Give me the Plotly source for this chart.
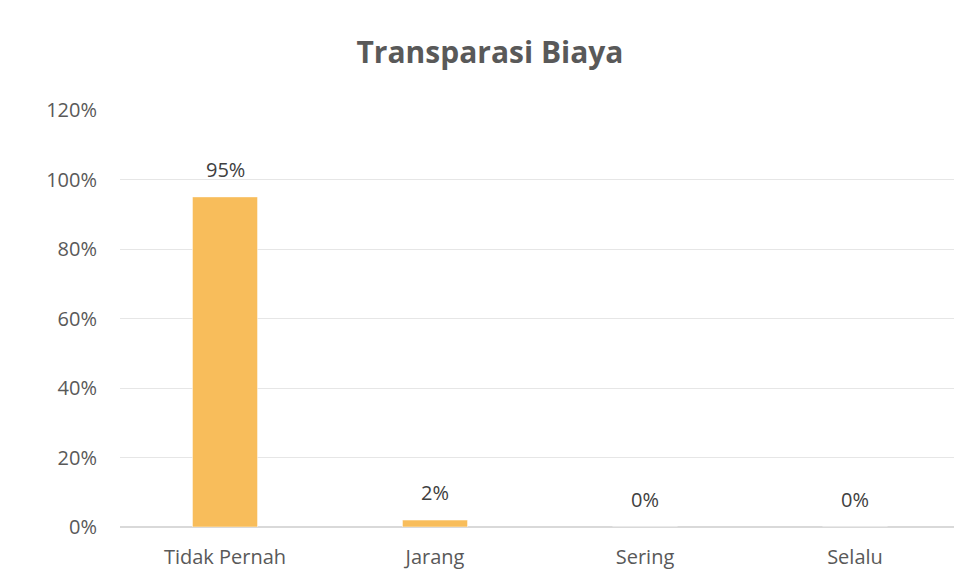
import plotly.graph_objects as go

categories = ["Tidak Pernah", "Jarang", "Sering", "Selalu"]
values = [0.95, 0.02, 0.0, 0.0]
labels = ["95%", "2%", "0%", "0%"]

BAR_COLOR = "#F8BD5B"
TEXT_COLOR = "#595959"
FONT = "'Open Sans', Lato, sans-serif"

fig = go.Figure()
fig.add_trace(go.Bar(
    x=categories, y=values, marker_color=BAR_COLOR, width=0.31,
    hoverinfo="x+y",
))

for cat, val, lab in zip(categories, values, labels):
    fig.add_annotation(
        x=cat, y=val, text=lab, showarrow=False,
        yanchor="bottom", yshift=12,
        font=dict(size=20, color="#404040", family=FONT),
    )

fig.update_layout(
    title=dict(
        text="<b>Transparasi Biaya</b>", x=0.501, xanchor="center",
        y=0.925, yanchor="middle",
        font=dict(size=30, color=TEXT_COLOR, family=FONT),
    ),
    template="plotly_white",
    width=962, height=587,
    margin=dict(l=112, r=10, t=102, b=68),
    showlegend=False,
    plot_bgcolor="white",
    paper_bgcolor="white",
    font=dict(family=FONT, size=20, color=TEXT_COLOR),
)
fig.update_yaxes(
    range=[0, 1.2], dtick=0.2, tickformat=".0%",
    gridcolor="#E6E6E6", gridwidth=1, zeroline=True,
    zerolinecolor="#D9D9D9", ticks="", ticklabelstandoff=22,
    tickfont=dict(size=20, color=TEXT_COLOR),
)
fig.update_xaxes(
    showgrid=False, ticks="", tickfont=dict(size=20, color=TEXT_COLOR),
    ticklabelstandoff=16,
)

fig.write_html("out.html")
